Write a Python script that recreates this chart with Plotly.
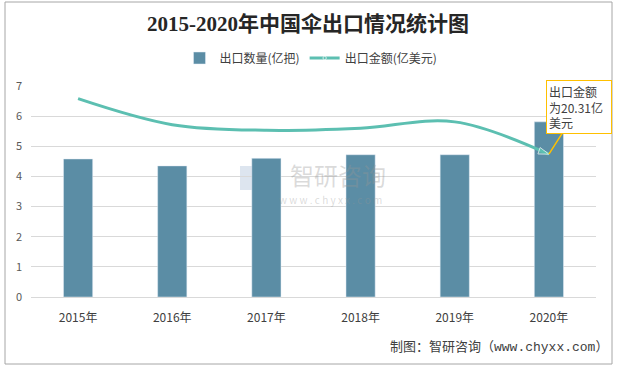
import plotly.graph_objects as go

years = ["2015年", "2016年", "2017年", "2018年", "2019年", "2020年"]
quantity = [4.58, 4.35, 4.6, 4.72, 4.72, 5.81]          # 出口数量(亿把)
amount = [28.2, 24.5, 23.7, 24.0, 24.9, 20.31]          # 出口金额(亿美元)
y_ticks = [0, 1, 2, 3, 4, 5, 6, 7]

BAR = "#5B8DA5"
LINE = "#5CBFB1"
TXT = "#404040"
CJK = "Noto Sans CJK SC"

fig = go.Figure()
fig.add_trace(go.Bar(
    x=years, y=quantity, name="出口数量(亿把)",
    marker=dict(color=BAR), width=0.31,
))
n = len(years)
fig.add_trace(go.Scatter(
    x=years, y=amount, name="出口金额(亿美元)", yaxis="y2",
    mode="lines+markers",
    line=dict(color=LINE, width=3, shape="spline", smoothing=1.0),
    marker=dict(color=LINE,
                symbol=["circle"] + ["circle"] * (n - 2) + ["arrow"],
                size=[9] + [0] * (n - 2) + [11],
                angleref="previous"),
))

L, R, T, B = 31, 22, 86, 70
W, H = 618 - L - R, 367 - T - B
def px(x): return (x - L) / W
def py(y): return (367 - B - y) / H

# outer border
fig.add_shape(type="rect", xref="paper", yref="paper",
              x0=px(5), x1=px(612), y0=py(364), y1=py(2),
              line=dict(color="#a6a6a6", width=1), fillcolor="rgba(0,0,0,0)", layer="below")

# watermark
fig.add_annotation(xref="paper", yref="paper", x=px(338), y=py(174), text="智研咨询",
                   showarrow=False, font=dict(family=CJK, size=24, color="rgba(150,150,150,0.35)"))
fig.add_annotation(xref="paper", yref="paper", x=px(330), y=py(199), text="w w w . c h y x x . c o m",
                   showarrow=False, font=dict(family=CJK, size=10, color="rgba(150,150,150,0.35)"))
fig.add_shape(type="rect", xref="paper", yref="paper", x0=px(240), x1=px(262), y0=py(190), y1=py(166),
              line=dict(width=0), fillcolor="rgba(120,150,190,0.25)", layer="below")

# callout
fig.add_annotation(x=years[-1], y=amount[-1], yref="y2", text="出口金额<br>为20.31亿<br>美元",
                   align="left", showarrow=True, arrowhead=0, arrowcolor="#FFC000", arrowwidth=1.5,
                   ax=30, ay=-47, width=60,
                   bordercolor="#FFC000", borderwidth=1, bgcolor="white", borderpad=2,
                   font=dict(family=CJK, size=12, color=TXT))

# source
fig.add_annotation(xref="paper", yref="paper", x=px(610), y=py(347), xanchor="right", yanchor="middle",
                   text="制图：智研咨询（www.chyxx.com）", showarrow=False,
                   font=dict(family="Liberation Mono, " + CJK, size=13, color=TXT))

fig.update_layout(
    width=618, height=367,
    margin=dict(l=L, r=R, t=T, b=B, autoexpand=False),
    paper_bgcolor="white", plot_bgcolor="white",
    title=dict(text="2015-2020年中国伞出口情况统计图", xref="container", x=308 / 618, xanchor="center",
               y=1 - 24 / 367, yanchor="middle",
               font=dict(family="Liberation Serif, " + CJK, size=21, color="#262626", weight="bold")),
    legend=dict(orientation="h", x=px(311), xanchor="center", y=py(58), yanchor="middle",
                font=dict(family=CJK, size=12, color=TXT), itemwidth=30),
    xaxis=dict(range=[-0.5, len(years) - 0.5], showline=True, linecolor="#d9d9d9", ticks="",
               tickfont=dict(family=CJK, size=12, color=TXT), ticklabelstandoff=10),
    yaxis=dict(range=[0, 7], tickvals=y_ticks, showgrid=True, gridcolor="#d9d9d9",
               zeroline=False, tickfont=dict(family=CJK, size=11, color="#595959"), ticklabelstandoff=8),
    yaxis2=dict(range=[0, 30], overlaying="y", side="right", visible=False),
    showlegend=True,
)

fig.write_html("out.html", config={"displayModeBar": False},
               post_script="document.body.style.margin='0';document.body.style.overflow='hidden';")
